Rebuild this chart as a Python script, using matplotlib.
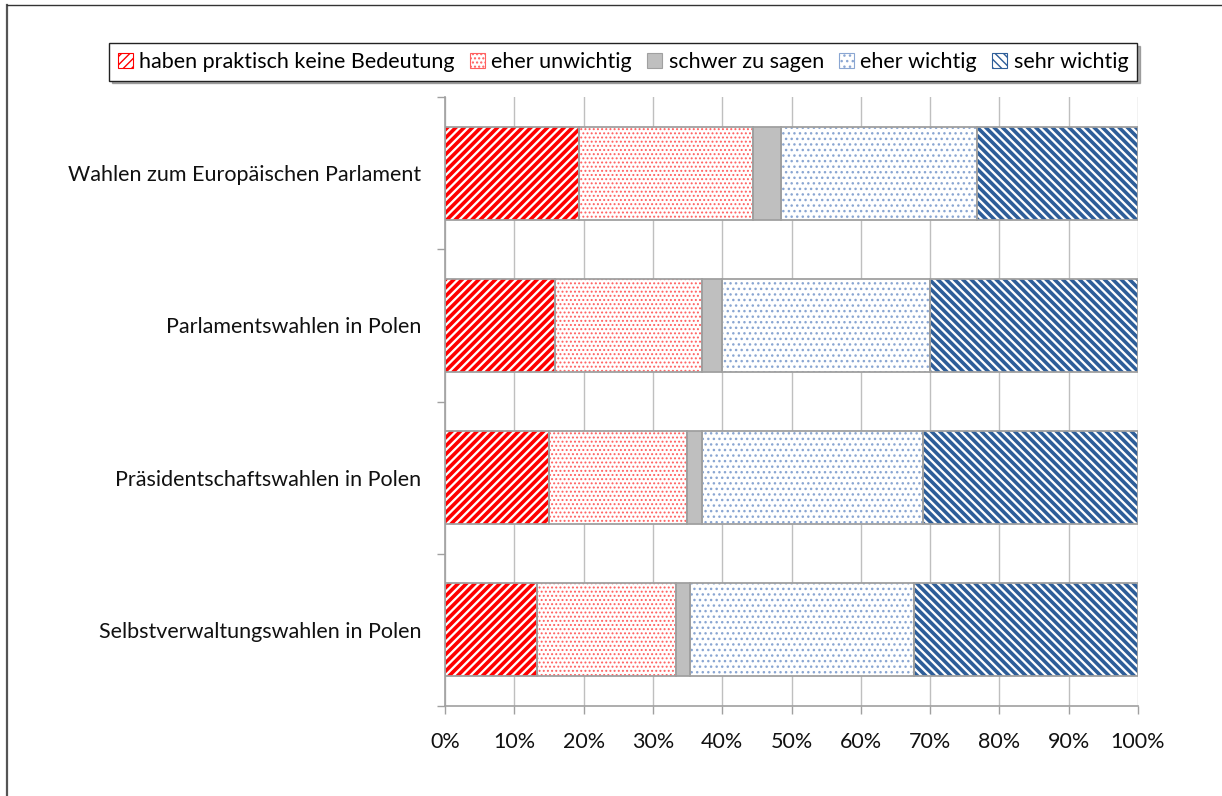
import matplotlib
matplotlib.use("Agg")
import matplotlib.pyplot as plt
from matplotlib.lines import Line2D
from matplotlib.patches import Patch
from matplotlib.ticker import FixedLocator, PercentFormatter

plt.rcParams['font.family'] = ['Lato', 'DejaVu Sans']

categories = [
    "Wahlen zum Europäischen Parlament",
    "Parlamentswahlen in Polen",
    "Präsidentschaftswahlen in Polen",
    "Selbstverwaltungswahlen in Polen",
]
series_names = [
    "haben praktisch keine Bedeutung",
    "eher unwichtig",
    "schwer zu sagen",
    "eher wichtig",
    "sehr wichtig",
]
keine_bedeutung = [19.3, 15.9, 15.0, 13.3]
eher_unwichtig = [25.1, 21.2, 19.9, 20.0]
schwer_zu_sagen = [4.1, 2.9, 2.2, 2.1]
eher_wichtig = [28.3, 30.0, 31.9, 32.3]
sehr_wichtig = [23.2, 30.0, 31.0, 32.3]
x_ticks = [0, 10, 20, 30, 40, 50, 60, 70, 80, 90, 100]

series = [keine_bedeutung, eher_unwichtig, schwer_zu_sagen, eher_wichtig, sehr_wichtig]

# fill style per series: (face, hatch, hatch colour, hatch linewidth)
styles = [
    ("white", "////", "#ff0000", 2.6),
    ("white", "....", "#ff6060", 0.9),
    ("#bfbfbf", None, None, 1.0),
    ("white", "...", "#8aa6d2", 1.0),
    ("white", "\\\\\\\\", "#2e5e99", 2.6),
]
outline = "#a0a0a0"
FS = 15.5

fig = plt.figure(figsize=(12.22, 7.96), dpi=100)
ax = fig.add_axes([445 / 1222, 1 - 706 / 796, (1138 - 445) / 1222, (706 - 97) / 796])

ypos = list(range(len(categories)))
bar_h = 0.61
left = [0.0] * len(categories)
for vals, (face, hatch, hcol, hlw) in zip(series, styles):
    if hatch:
        with plt.rc_context({'hatch.linewidth': hlw}):
            bars = ax.barh(ypos, vals, left=left, height=bar_h, color=face,
                           hatch=hatch, edgecolor=hcol, linewidth=0, zorder=2)
        for b in bars:
            try:
                b.set_hatch_linewidth(hlw)
            except AttributeError:
                pass
    else:
        ax.barh(ypos, vals, left=left, height=bar_h, color=face, linewidth=0, zorder=2)
    ax.barh(ypos, vals, left=left, height=bar_h, fill=False,
            edgecolor=outline, linewidth=1.3, zorder=3)
    left = [l + v for l, v in zip(left, vals)]

ax.set_xlim(0, 100)
ax.set_ylim(len(categories) - 0.5, -0.5)
ax.xaxis.set_major_locator(FixedLocator(x_ticks))
ax.xaxis.set_major_formatter(PercentFormatter(decimals=0))
ax.grid(axis='x', color='#bfbfbf', linewidth=1.0, zorder=0)
ax.set_axisbelow(True)

ax.set_yticks(ypos)
ax.set_yticklabels(categories)
ax.yaxis.set_minor_locator(FixedLocator([i - 0.5 for i in range(len(categories) + 1)]))
ax.tick_params(axis='y', which='major', length=0, pad=17, labelsize=FS, labelcolor='#111111')
ax.tick_params(axis='y', which='minor', length=6, color='#a0a0a0', width=1.0)
ax.tick_params(axis='x', which='major', length=6, color='#a0a0a0', width=1.0,
               pad=13, labelsize=FS, labelcolor='#111111')

for side in ('top', 'right'):
    ax.spines[side].set_visible(False)
for side in ('left', 'bottom'):
    ax.spines[side].set_color('#a0a0a0')
    ax.spines[side].set_linewidth(1.2)

handles = []
for (face, hatch, hcol, hlw) in styles:
    handles.append(Patch(facecolor=face, hatch=hatch,
                         edgecolor=hcol if hcol else '#a0a0a0', linewidth=0.8))
leg = fig.legend(handles, series_names, loc='center', bbox_to_anchor=(623 / 1222, 1 - 62 / 796),
                 ncol=5, frameon=True, fancybox=False, shadow={'color': '#777777', 'alpha': 0.6},
                 edgecolor='#222222', fontsize=FS, handlelength=0.7, handleheight=0.7,
                 handletextpad=0.3, columnspacing=0.7, borderpad=0.4, borderaxespad=0)
leg.get_frame().set_linewidth(1.0)

# thin frame around the chart area
fig.add_artist(Line2D([6.5 / 1222, 6.5 / 1222], [0, 1 - 4.5 / 796], color='#555555',
                      linewidth=1.6, transform=fig.transFigure))
fig.add_artist(Line2D([6.5 / 1222, 1], [1 - 4.5 / 796, 1 - 4.5 / 796], color='#333333',
                      linewidth=1.0, transform=fig.transFigure))

fig.savefig("out.png", dpi=100, facecolor='white')
